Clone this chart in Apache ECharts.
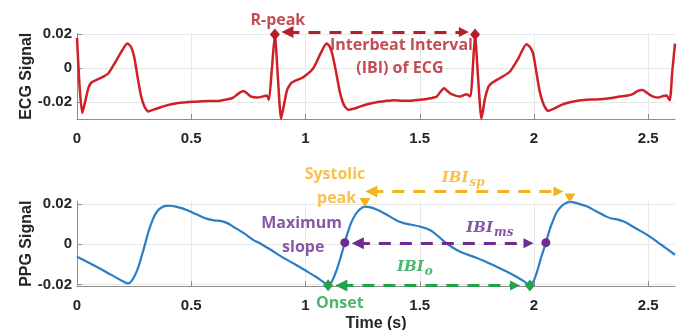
<!DOCTYPE html>
<html>
<head>
<meta charset="utf-8">
<script src="https://cdn.jsdelivr.net/npm/echarts@6/dist/echarts.min.js"></script>
<style>
  html, body { margin: 0; padding: 0; background: #fff; }
  #chart { width: 683px; height: 330px; }
</style>
</head>
<body>
<div id="chart"></div>
<script>
// time axis
const timeMax = 2.617
const timeTicks = [0, 0.5, 1, 1.5, 2, 2.5]

// ECG trace
const ecgTime = [0, 0.012, 0.023, 0.035, 0.05, 0.064, 0.09, 0.115, 0.137, 0.165, 0.195, 0.22, 0.235, 0.25, 0.265, 0.28, 0.295, 0.312, 0.335, 0.363, 0.4, 0.436, 0.48, 0.52, 0.553, 0.59, 0.626, 0.66, 0.684, 0.705, 0.728, 0.745, 0.76, 0.786, 0.815, 0.83, 0.84, 0.853, 0.866, 0.879, 0.893, 0.905, 0.92, 0.939, 0.99, 1.034, 1.065, 1.092, 1.105, 1.118, 1.135, 1.15, 1.168, 1.187, 1.21, 1.238, 1.275, 1.311, 1.35, 1.384, 1.42, 1.457, 1.5, 1.53, 1.574, 1.592, 1.607, 1.622, 1.639, 1.675, 1.705, 1.722, 1.732, 1.742, 1.755, 1.77, 1.785, 1.8, 1.814, 1.85, 1.894, 1.93, 1.967, 1.982, 1.996, 2.01, 2.025, 2.043, 2.062, 2.09, 2.12, 2.157, 2.19, 2.23, 2.27, 2.302, 2.34, 2.375, 2.41, 2.434, 2.455, 2.475, 2.49, 2.507, 2.525, 2.543, 2.565, 2.58, 2.594, 2.605, 2.617]
const ecgValue = [0.0179, -0.012, -0.0263, -0.02, -0.0115, -0.0082, -0.0065, -0.0049, -0.003, 0.003, 0.01, 0.0146, 0.013, 0.007, -0.005, -0.016, -0.0225, -0.0254, -0.0243, -0.023, -0.0215, -0.0205, -0.0199, -0.0196, -0.0193, -0.0192, -0.019, -0.0182, -0.0172, -0.015, -0.0133, -0.0148, -0.0165, -0.0172, -0.0165, -0.016, -0.0185, 0, 0.0199, -0.005, -0.0297, -0.022, -0.0125, -0.0085, -0.0052, 0, 0.0085, 0.0146, 0.013, 0.008, -0.003, -0.0137, -0.0215, -0.0244, -0.0238, -0.0225, -0.021, -0.0199, -0.0192, -0.0187, -0.019, -0.0191, -0.0185, -0.018, -0.0166, -0.0135, -0.0117, -0.0135, -0.0152, -0.0166, -0.0152, -0.0166, 0, 0.0199, -0.005, -0.0297, -0.018, -0.011, -0.0088, -0.0058, -0.002, 0.0055, 0.0142, 0.0125, 0.0088, -0.002, -0.0137, -0.0215, -0.025, -0.0235, -0.0215, -0.0199, -0.019, -0.0185, -0.0183, -0.018, -0.0174, -0.0166, -0.016, -0.015, -0.0132, -0.0127, -0.014, -0.0156, -0.0168, -0.0172, -0.0163, -0.016, -0.0188, -0.002, 0.0146]
const ecgTicks = [-0.02, 0, 0.02]

// PPG trace
const ppgTime = [0, 0.05, 0.1, 0.15, 0.2, 0.224, 0.24, 0.261, 0.28, 0.297, 0.315, 0.334, 0.352, 0.37, 0.39, 0.407, 0.44, 0.48, 0.52, 0.567, 0.6, 0.626, 0.655, 0.684, 0.73, 0.771, 0.8, 0.844, 0.9, 0.946, 1, 1.05, 1.085, 1.099, 1.115, 1.136, 1.155, 1.172, 1.187, 1.202, 1.22, 1.24, 1.26, 1.28, 1.311, 1.35, 1.399, 1.43, 1.457, 1.5, 1.544, 1.58, 1.617, 1.66, 1.705, 1.75, 1.8, 1.836, 1.88, 1.923, 1.955, 1.982, 1.995, 2.011, 2.03, 2.052, 2.068, 2.084, 2.1, 2.113, 2.13, 2.157, 2.19, 2.23, 2.27, 2.317, 2.34, 2.361, 2.39, 2.419, 2.46, 2.507, 2.56, 2.617]
const ppgValue = [-0.0062, -0.009, -0.012, -0.0152, -0.0183, -0.0194, -0.018, -0.0136, -0.007, -0.0003, 0.007, 0.0129, 0.0165, 0.0182, 0.019, 0.0191, 0.0184, 0.017, 0.015, 0.0127, 0.0118, 0.0116, 0.0106, 0.0087, 0.0055, 0.0022, 0.0005, -0.0025, -0.0065, -0.0094, -0.013, -0.0165, -0.0193, -0.0203, -0.0185, -0.0128, -0.006, 0.0008, 0.0065, 0.0112, 0.015, 0.0175, 0.0187, 0.0184, 0.0172, 0.015, 0.0118, 0.0105, 0.0098, 0.0088, 0.0071, 0.004, 0.0005, -0.0027, -0.005, -0.0068, -0.0093, -0.0111, -0.0135, -0.0161, -0.0183, -0.0205, -0.019, -0.0144, -0.007, 0.0008, 0.007, 0.012, 0.016, 0.018, 0.0198, 0.021, 0.0203, 0.0188, 0.0165, 0.0137, 0.0128, 0.0124, 0.0114, 0.0097, 0.007, 0.0038, -0.0005, -0.0052]
const ppgTicks = [-0.02, 0, 0.02]

// ECG annotations
const rPeakTime = [0.866, 1.742]
const rPeakValue = [0.0199, 0.0199]
const ecgArrowTime = [0.921, 1.693]
const ecgArrowValue = 0.0214
const ecgNoteText = ['R-peak', 'Interbeat Interval', '(IBI) of ECG']
const ecgNoteTime = [0.879, 1.42, 1.413]
const ecgNoteValue = [0.0283, 0.0136, 0.0001]

// PPG annotations
const sysPeakTime = [1.26, 2.157]
const sysPeakValue = [0.0187, 0.021]
const spArrowTime = [1.288, 2.107]
const spArrowValue = 0.0261
const maxSlopeTime = [1.172, 2.052]
const maxSlopeValue = [0.0008, 0.0008]
const msArrowTime = [1.229, 1.976]
const msArrowValue = 0.0005
const onsetTime = [1.099, 1.982]
const onsetValue = [-0.0203, -0.0205]
const oArrowTime = [1.157, 1.917]
const oArrowValue = -0.0204

const spNoteText = ['Systolic', 'peak']
const spNoteTime = [1.129, 1.136]
const spNoteValue = [0.0344, 0.0228]
const msNoteText = ['Maximum', 'slope']
const msNoteTime = [0.983, 0.99]
const msNoteValue = [0.0104, -0.0016]
const oNoteText = ['Onset']
const oNoteTime = [1.15]
const oNoteValue = [-0.0293]

const ibiName = 'IBI'
const ibiSub = ['sp', 'ms', 'o']
const ibiTime = [1.69, 1.807, 1.479]
const ibiValue = [0.0329, 0.0081, -0.0115]

const colors = {
  ecg: '#CD2027',
  ecgNote: '#B3202B',
  ppg: '#2B7DC6',
  sp: '#F5B11E',
  ms: '#6C2C91',
  o: '#22A34A'
}
const axisFont = 'Liberation Sans, Arial, sans-serif'
const noteFont = 'Open Sans, Lato, sans-serif'

function pairs(xs, ys) {
  return xs.map((x, i) => [x, Array.isArray(ys) ? ys[i] : ys])
}

function xAxisOf(gridIndex, withName) {
  return {
    type: 'value',
    gridIndex: gridIndex,
    min: 0,
    max: timeMax,
    name: withName ? 'Time (s)' : '',
    nameLocation: 'middle',
    nameGap: 30,
    nameMoveOverlap: false,
    nameTextStyle: { fontFamily: axisFont, fontWeight: 'bold', fontSize: 16, color: '#262626' },
    axisLine: { show: true, onZero: false, lineStyle: { color: '#8c8c8c', width: 1 } },
    axisTick: { show: true, inside: true, length: 5, customValues: timeTicks, lineStyle: { color: '#8c8c8c' } },
    axisLabel: {
      customValues: timeTicks,
      formatter: v => String(v),
      fontFamily: axisFont, fontWeight: 'bold', fontSize: 15, color: '#262626', margin: 12
    },
    splitLine: { show: true, lineStyle: { color: '#e8e8e8', width: 1 } }
  }
}

function yAxisOf(gridIndex, name, min, max, ticks) {
  return {
    type: 'value',
    gridIndex: gridIndex,
    min: min,
    max: max,
    name: name,
    nameLocation: 'middle',
    nameGap: 42,
    nameMoveOverlap: false,
    nameTextStyle: { fontFamily: axisFont, fontWeight: 'bold', fontSize: 16, color: '#262626' },
    axisLine: { show: true, onZero: false, lineStyle: { color: '#8c8c8c', width: 1 } },
    axisTick: { show: true, inside: true, length: 5, customValues: ticks, lineStyle: { color: '#8c8c8c' } },
    axisLabel: {
      customValues: ticks,
      formatter: v => (v === 0 ? '0' : v.toFixed(2)),
      fontFamily: axisFont, fontWeight: 'bold', fontSize: 15, color: '#262626', margin: 5
    },
    splitLine: { show: true, lineStyle: { color: '#e8e8e8', width: 1 } }
  }
}

// dashed double-headed arrow drawn in data coordinates
function arrowSeries(idx, times, value, color) {
  return {
    type: 'lines',
    coordinateSystem: 'cartesian2d',
    xAxisIndex: idx,
    yAxisIndex: idx,
    clip: false,
    silent: true,
    z: 4,
    symbol: ['triangle', 'triangle'],
    symbolSize: [12, 10],
    lineStyle: { color: color, width: 3, type: [12, 9], opacity: 1, curveness: 0 },
    data: [{ coords: pairs(times, value) }]
  }
}

function markerSeries(idx, times, values, symbol, size, color, offset) {
  return {
    type: 'scatter',
    xAxisIndex: idx,
    yAxisIndex: idx,
    clip: false,
    silent: true,
    z: 5,
    symbol: symbol,
    symbolSize: size,
    symbolRotate: symbol === 'triangle' ? 180 : 0,
    symbolOffset: offset || [0, 0],
    itemStyle: { color: color, opacity: 1 },
    data: pairs(times, values)
  }
}

function noteSeries(idx, times, values, texts, color) {
  return {
    type: 'scatter',
    xAxisIndex: idx,
    yAxisIndex: idx,
    clip: false,
    silent: true,
    z: 6,
    symbolSize: 0,
    data: times.map((t, i) => ({ value: [t, values[i]], name: texts[i] })),
    label: {
      show: true,
      position: 'inside',
      formatter: p => p.name,
      color: color,
      fontFamily: noteFont,
      fontWeight: 'bold',
      fontSize: 16
    }
  }
}

function ibiSeries() {
  const subColors = [colors.sp, colors.ms, colors.o]
  return {
    type: 'scatter',
    xAxisIndex: 1,
    yAxisIndex: 1,
    clip: false,
    silent: true,
    z: 6,
    symbolSize: 0,
    data: ibiTime.map((t, i) => ({
      value: [t, ibiValue[i]],
      name: ibiSub[i],
      label: {
        rich: {
          m: { fontFamily: 'DejaVu Serif', fontStyle: 'italic', fontWeight: 'bold', fontSize: 15, color: subColors[i] },
          s: { fontFamily: 'DejaVu Serif', fontStyle: 'italic', fontWeight: 'bold', fontSize: 12, color: subColors[i], padding: [9, 0, 0, 1] }
        }
      }
    })),
    label: {
      show: true,
      position: 'inside',
      formatter: p => '{m|' + ibiName + '}{s|' + p.name + '}'
    }
  }
}

const chart = echarts.init(document.getElementById('chart'), null, { renderer: 'canvas' })

const option = {
  animation: false,
  backgroundColor: '#ffffff',
  grid: [
    { left: 77, right: 8, top: 33.5, height: 85.5, outerBoundsMode: 'none' },
    { left: 77, right: 8, top: 201.5, height: 84.5, outerBoundsMode: 'none' }
  ],
  xAxis: [xAxisOf(0, false), xAxisOf(1, true)],
  yAxis: [
    yAxisOf(0, 'ECG Signal', -0.0298, 0.0205, ecgTicks),
    yAxisOf(1, 'PPG Signal', -0.0207, 0.0212, ppgTicks)
  ],
  series: [
    {
      type: 'line',
      xAxisIndex: 0,
      yAxisIndex: 0,
      data: pairs(ecgTime, ecgValue),
      showSymbol: false,
      smooth: 0.2,
      silent: true,
      lineStyle: { color: colors.ecg, width: 2.5 }
    },
    arrowSeries(0, ecgArrowTime, ecgArrowValue, colors.ecgNote),
    markerSeries(0, rPeakTime, rPeakValue, 'diamond', [10, 12], colors.ecgNote),
    noteSeries(0, ecgNoteTime, ecgNoteValue, ecgNoteText, colors.ecgNote),
    {
      type: 'line',
      xAxisIndex: 1,
      yAxisIndex: 1,
      data: pairs(ppgTime, ppgValue),
      showSymbol: false,
      smooth: 0.4,
      silent: true,
      lineStyle: { color: colors.ppg, width: 2.2 }
    },
    arrowSeries(1, spArrowTime, spArrowValue, colors.sp),
    arrowSeries(1, msArrowTime, msArrowValue, colors.ms),
    arrowSeries(1, oArrowTime, oArrowValue, colors.o),
    markerSeries(1, sysPeakTime, sysPeakValue, 'triangle', [11, 9], colors.sp, [0, -4]),
    markerSeries(1, maxSlopeTime, maxSlopeValue, 'circle', 9, colors.ms),
    markerSeries(1, onsetTime, onsetValue, 'diamond', [10, 12], colors.o),
    noteSeries(1, spNoteTime, spNoteValue, spNoteText, colors.sp),
    noteSeries(1, msNoteTime, msNoteValue, msNoteText, colors.ms),
    noteSeries(1, oNoteTime, oNoteValue, oNoteText, colors.o),
    ibiSeries()
  ]
}

chart.setOption(option)
</script>
</body>
</html>
